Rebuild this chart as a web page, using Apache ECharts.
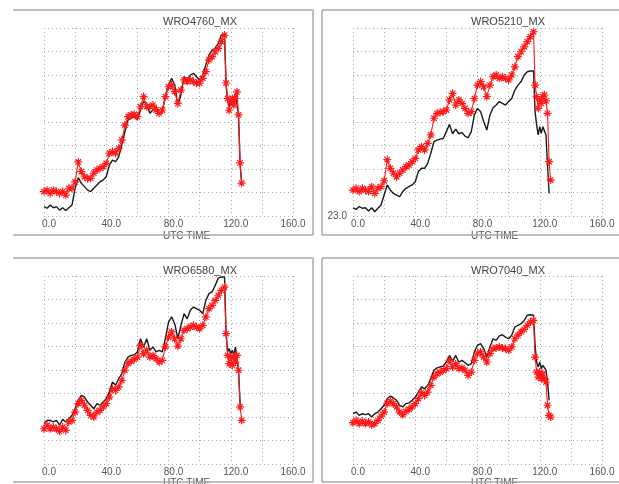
<!DOCTYPE html>
<html>
<head>
<meta charset="utf-8">
<script src="https://cdn.jsdelivr.net/npm/echarts@6/dist/echarts.min.js"></script>
<style>
  html, body { margin: 0; padding: 0; background: #fff; }
  #chart { width: 619px; height: 484px; }
</style>
</head>
<body>
<div id="chart"></div>
<script>
// Hourly station series (UTC hours), values stored as offsets above the 23.0 axis floor.
const BASE = 23.0;

const hours = [0,2,4,6,8,10,12,14,16,18,20,22,24,26,28,30,32,34,36,38,
  40,42,44,46,48,50,52,54,56,58,60,62,64,66,68,70,72,74,76,78,
  80,82,84,86,88,90,92,94,96,98,100,102,104,106,108,110,112,114,116,
  117,118,119,120,121,122,123,124,125,126,127];

const xTicks = [0, 40, 80, 120, 160];

const titles = ['WRO4760_MX', 'WRO5210_MX', 'WRO6580_MX', 'WRO7040_MX'];

// WRO4760_MX
const wro4760Model = [1.04,1.10,0.96,1.10,1.04,0.96,1.04,0.89,1.18,1.18,
  1.45,2.30,1.89,1.67,1.60,1.60,1.82,1.96,2.03,2.10,
  2.24,2.67,2.74,2.67,2.88,3.23,3.87,4.23,4.30,4.33,
  4.23,4.65,5.08,4.65,4.65,4.72,4.51,4.37,4.51,5.08,
  5.50,5.57,5.29,4.79,5.36,5.79,5.72,5.79,5.72,5.65,
  5.65,5.86,6.14,6.64,6.78,6.99,7.13,7.42,7.70,
  5.66,5.00,4.50,4.90,5.00,4.72,5.00,5.28,4.30,2.26,1.40];
const wro4760Obs = [0.40,0.33,0.47,0.35,0.40,0.25,0.35,0.23,0.35,0.47,
  1.18,1.63,1.39,1.25,1.10,1.04,1.18,1.32,1.46,1.53,
  1.67,2.17,2.38,2.31,2.52,3.02,3.59,4.09,4.16,4.23,
  4.09,4.51,4.87,4.79,4.37,4.51,4.65,4.37,4.44,5.08,
  5.57,5.86,5.57,4.72,5.15,5.93,5.79,6.00,6.07,5.93,
  5.79,6.00,6.43,6.85,7.06,7.13,7.35,7.70,7.70,
  5.57,4.90,4.60,5.00,4.70,4.90,5.20,5.20,4.30,2.20,1.40];

// WRO5210_MX
const wro5210Model = [1.10,1.18,1.04,1.18,1.10,1.04,1.25,0.96,1.18,1.25,
  1.50,2.40,2.03,1.82,1.67,1.82,1.96,2.10,2.17,2.31,
  2.45,2.81,2.95,2.81,3.09,3.45,4.16,4.37,4.41,4.44,
  4.51,4.94,5.22,4.72,4.94,4.79,4.58,4.37,4.44,5.00,
  5.57,5.72,5.50,5.08,5.57,5.93,6.00,5.86,5.93,5.86,
  5.79,6.00,6.35,6.78,6.99,7.20,7.42,7.63,7.84,
  5.57,5.08,4.58,4.94,4.79,5.08,5.15,4.90,4.37,2.31,1.53];
const wro5210Obs = [0.35,0.28,0.40,0.33,0.35,0.21,0.35,0.18,0.33,0.47,
  0.89,1.32,1.10,0.96,0.89,0.82,1.04,1.18,1.25,1.32,
  1.46,1.89,2.03,2.03,2.24,2.67,3.16,3.23,3.27,3.30,
  3.59,3.90,3.50,3.70,3.50,3.55,3.40,3.33,3.59,4.30,
  4.58,4.44,4.01,3.66,4.30,4.61,4.72,4.87,4.79,4.72,
  4.87,5.00,5.36,5.57,5.72,6.00,6.14,6.17,6.17,
  4.44,3.87,3.45,3.80,3.52,3.80,3.87,3.45,2.17,0.96];

// WRO6580_MX
const wro6580Model = [1.50,1.65,1.50,1.57,1.50,1.39,1.57,1.43,1.79,1.86,
  2.21,2.57,2.71,2.50,2.28,2.07,2.00,2.21,2.28,2.43,
  2.57,2.85,3.20,3.13,3.28,3.56,3.99,4.27,4.37,4.45,
  4.55,5.05,4.69,4.84,4.55,4.62,4.48,4.34,4.41,4.98,
  5.40,5.62,5.33,5.02,5.33,5.69,5.76,5.83,5.90,5.83,
  5.76,5.90,6.26,6.61,6.75,6.96,7.18,7.39,7.53,
  5.55,4.62,4.27,4.55,4.20,4.55,4.34,4.62,3.99,2.43,1.86];
const wro6580Obs = [1.72,1.85,1.86,1.79,1.86,1.65,1.90,1.79,1.93,2.07,
  2.35,2.71,2.92,2.85,2.64,2.50,2.35,2.57,2.50,2.64,
  2.78,3.06,3.49,3.35,3.63,3.84,4.34,4.55,4.62,4.65,
  4.77,5.33,4.98,5.33,4.84,4.98,4.77,4.84,4.77,5.33,
  6.04,6.26,5.97,5.33,5.90,6.40,6.18,6.54,6.68,6.61,
  6.54,6.40,6.96,7.25,7.32,7.60,7.91,7.96,7.96,
  5.55,4.77,4.91,4.69,4.84,4.62,4.98,5.05,3.99,2.57,2.45];

// WRO7040_MX
const wro7040Model = [1.76,1.86,1.72,1.82,1.72,1.79,1.67,1.72,1.86,2.04,
  2.21,2.57,2.67,2.57,2.43,2.21,2.10,2.24,2.33,2.43,
  2.57,2.78,3.04,2.92,3.06,3.35,3.70,3.84,3.91,3.99,
  4.06,4.41,4.13,4.27,4.06,4.09,3.99,3.77,3.91,4.41,
  4.70,4.77,4.55,4.34,4.70,4.91,4.94,4.98,4.94,4.91,
  4.84,4.98,5.33,5.48,5.62,5.73,5.90,6.04,6.11,
  4.55,3.91,3.70,3.91,3.63,3.84,3.63,3.49,2.50,2.07,2.00];
const wro7040Obs = [2.14,2.21,2.07,2.14,2.10,2.14,2.00,2.14,2.21,2.35,
  2.50,2.78,2.89,2.81,2.71,2.50,2.43,2.57,2.60,2.71,
  2.85,3.06,3.28,3.20,3.35,3.63,3.99,4.09,4.13,4.17,
  4.34,4.62,4.37,4.62,4.34,4.41,4.31,4.20,4.27,4.77,
  5.05,5.12,4.91,4.55,4.98,5.33,5.26,5.45,5.50,5.40,
  5.33,5.48,5.83,5.90,5.97,6.11,6.33,6.35,6.33,
  5.05,4.34,4.13,4.34,4.06,4.20,4.27,3.99,3.49,2.71];

const modelSeries = [wro4760Model, wro5210Model, wro6580Model, wro7040Model];
const obsSeries = [wro4760Obs, wro5210Obs, wro6580Obs, wro7040Obs];

// Panel placement on the page
const layout = [
  { plotLeft: 44,  plotTop: 28,  cx: 163, titleY: 16,  nameY: 231, showMin: false },
  { plotLeft: 353, plotTop: 28,  cx: 471, titleY: 16,  nameY: 231, showMin: true },
  { plotLeft: 44,  plotTop: 276, cx: 163, titleY: 265, nameY: 478, showMin: false },
  { plotLeft: 353, plotTop: 276, cx: 471, titleY: 265, nameY: 478, showMin: false }
];
const PLOT_W = 249, PLOT_H = 188;

const FONT = '"Liberation Sans", Arial, sans-serif';
const TEXT = '#555';
const GRID_DOT = { color: '#a8a8a8', width: 1, type: [1, 3] };
const STAR = 'path://M5,0L5,10M0,5L10,5M1.6,1.6L8.4,8.4M8.4,1.6L1.6,8.4';

const toPairs = (vals) => vals.map((v, i) => [hours[i], BASE + v]);

const grids = [], xAxes = [], yAxes = [], series = [], graphics = [];

layout.forEach((p, k) => {
  grids.push({ left: p.plotLeft, top: p.plotTop, width: PLOT_W, height: PLOT_H });
  xAxes.push({
    type: 'value', gridIndex: k, min: 0, max: 160, interval: 20,
    axisLine: { show: false }, axisTick: { show: false },
    splitLine: { show: true, lineStyle: GRID_DOT },
    axisLabel: {
      margin: 3, fontFamily: FONT, fontSize: 10, color: TEXT,
      formatter: (v) => xTicks.indexOf(v) >= 0 ? (v < 160 ? '{s|' + v.toFixed(1) + '}' : v.toFixed(1)) : '',
      rich: { s: { padding: [0, 0, 0, 10], fontFamily: FONT, fontSize: 10, color: TEXT } }
    }
  });
  yAxes.push({
    type: 'value', gridIndex: k, min: BASE, max: BASE + 8, interval: 1,
    axisLine: { show: false }, axisTick: { show: false },
    splitLine: { show: true, lineStyle: GRID_DOT },
    axisLabel: {
      show: p.showMin, margin: 6, fontFamily: FONT, fontSize: 10, color: TEXT,
      formatter: (v) => v === BASE ? v.toFixed(1) : ''
    }
  });
  series.push({
    type: 'line', xAxisIndex: k, yAxisIndex: k, data: toPairs(obsSeries[k]),
    showSymbol: false, lineStyle: { color: '#1a1a1a', width: 1.4 }, z: 2
  });
  series.push({
    type: 'line', xAxisIndex: k, yAxisIndex: k, data: toPairs(modelSeries[k]),
    symbol: STAR, symbolSize: 8, showSymbol: true, showAllSymbol: true,
    itemStyle: { color: '#ff1a1a', borderColor: '#ff1a1a', borderWidth: 1.2 },
    lineStyle: { color: '#ff1a1a', width: 1.1 }, z: 3
  });
  graphics.push({
    type: 'text', left: p.cx, top: p.titleY,
    style: { text: titles[k], font: '11px ' + FONT, fill: '#444', textAlign: 'center', textVerticalAlign: 'middle' }
  });
  graphics.push({
    type: 'text', left: p.cx, top: p.nameY,
    style: { text: 'UTC TIME', font: '10px ' + FONT, fill: TEXT, textAlign: 'center', textVerticalAlign: 'middle' }
  });
});

// Panel frames
const FRAME = { stroke: '#a8a8a8', lineWidth: 1.5 };
const frameLines = [
  [13, 10, 313, 10], [313, 10, 313, 235], [13, 235, 313, 235],
  [322, 10, 619, 10], [322, 10, 322, 235], [322, 235, 619, 235],
  [13, 258, 313, 258], [313, 258, 313, 482], [13, 482, 313, 482],
  [322, 258, 619, 258], [322, 258, 322, 482], [322, 482, 619, 482]
];
frameLines.forEach(([x1, y1, x2, y2]) => {
  graphics.push({ type: 'line', shape: { x1, y1, x2, y2 }, style: FRAME, silent: true });
});

const chart = echarts.init(document.getElementById('chart'), null, { renderer: 'canvas' });
chart.setOption({
  animation: false,
  backgroundColor: '#fff',
  grid: grids,
  xAxis: xAxes,
  yAxis: yAxes,
  series: series,
  graphic: graphics
});
</script>
</body>
</html>
